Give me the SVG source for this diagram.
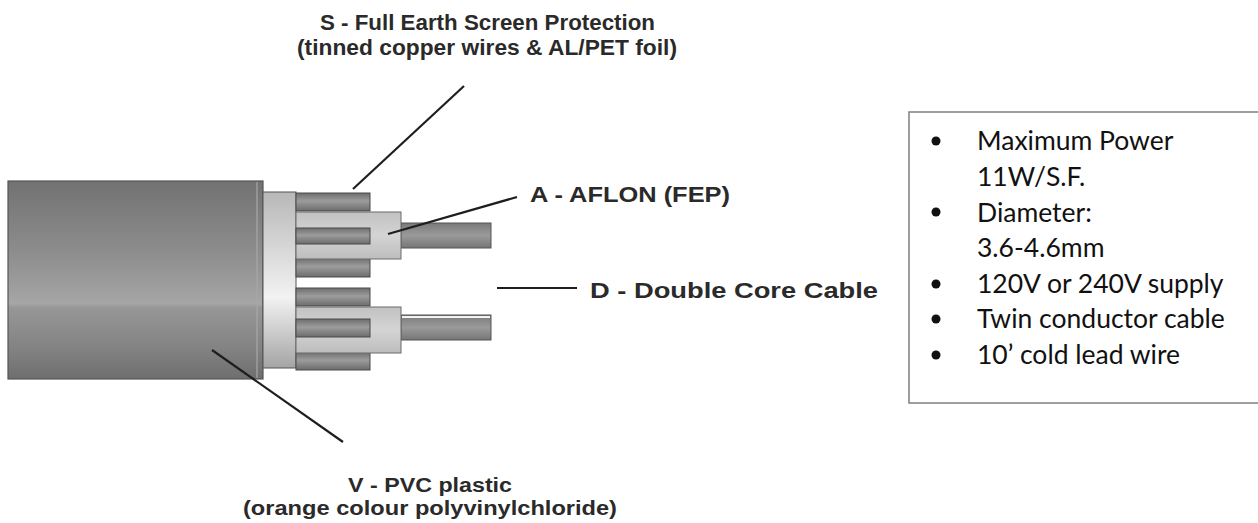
<svg xmlns="http://www.w3.org/2000/svg" width="1258" height="523" viewBox="0 0 1258 523">
<style>
.lbl{font-family:"Liberation Sans",Arial,sans-serif;font-weight:bold;font-size:22px;fill:#2a2a2a}
.lbs{font-size:20px}
.box{font-family:Lato,"Open Sans",sans-serif;font-size:26.5px;fill:#111}
.lead{stroke:#1e1e1e;stroke-width:2.2;fill:none}
.strand{fill:url(#gStrand);stroke:#4a4a4a;stroke-width:1}
.ins{fill:url(#gIns);stroke:#6a6a6a;stroke-width:1}
.cond{fill:url(#gCond);stroke:#555;stroke-width:1}
</style>
<defs>
<linearGradient id="gJacket" x1="0" y1="0" x2="0" y2="1">
<stop offset="0" stop-color="#727272"/>
<stop offset="0.35" stop-color="#8c8c8c"/>
<stop offset="0.62" stop-color="#a6a6a6"/>
<stop offset="0.64" stop-color="#979797"/>
<stop offset="0.85" stop-color="#828282"/>
<stop offset="1" stop-color="#6e6e6e"/>
</linearGradient>
<linearGradient id="gRing" x1="0" y1="0" x2="0" y2="1">
<stop offset="0" stop-color="#b8b8b8"/>
<stop offset="0.6" stop-color="#f2f2f2"/>
<stop offset="1" stop-color="#a4a4a4"/>
</linearGradient>
<linearGradient id="gStrand" x1="0" y1="0" x2="0" y2="1">
<stop offset="0" stop-color="#6e6e6e"/>
<stop offset="0.45" stop-color="#9c9c9c"/>
<stop offset="1" stop-color="#6c6c6c"/>
</linearGradient>
<linearGradient id="gIns" x1="0" y1="0" x2="0" y2="1">
<stop offset="0" stop-color="#c2c2c2"/>
<stop offset="0.5" stop-color="#d4d4d4"/>
<stop offset="1" stop-color="#bdbdbd"/>
</linearGradient>
<linearGradient id="gCond" x1="0" y1="0" x2="0" y2="1">
<stop offset="0" stop-color="#7a7a7a"/>
<stop offset="0.5" stop-color="#9a9a9a"/>
<stop offset="1" stop-color="#767676"/>
</linearGradient>
</defs>
<rect width="1258" height="523" fill="#fff"/>

<g id="cable">
<rect x="8" y="181" width="255" height="198" fill="url(#gJacket)" stroke="#555" stroke-width="1.2"/>
<line x1="257" y1="182" x2="257" y2="378" stroke="#a8a8a8" stroke-width="2" opacity="0.6"/>
<rect x="263" y="192" width="33" height="176" fill="url(#gRing)" stroke="#555" stroke-width="1"/>
<rect class="strand" x="296" y="193" width="74" height="18"/>
<rect class="strand" x="296" y="258" width="74" height="19"/>
<rect class="strand" x="296" y="288" width="74" height="18"/>
<rect class="strand" x="296" y="352" width="74" height="18"/>
<rect class="cond" x="401" y="223" width="90" height="25"/>
<rect class="cond" x="401" y="315" width="90" height="25"/>
<line x1="402" y1="317" x2="490" y2="317" stroke="#f4f4f4" stroke-width="2"/>
<rect class="ins" x="296" y="212" width="105" height="47"/>
<rect class="ins" x="296" y="307" width="105" height="46"/>
<rect class="strand" x="296" y="228" width="74" height="16"/>
<rect class="strand" x="296" y="319" width="74" height="18"/>
</g>

<g id="connectors">
<line class="lead" x1="464" y1="86" x2="353" y2="189"/>
<line class="lead" x1="517" y1="197" x2="388" y2="234"/>
<line class="lead" x1="497" y1="288" x2="577" y2="288"/>
<line class="lead" x1="212" y1="350" x2="343" y2="442"/>
</g>

<g id="label-s">
<text class="lbl" x="320" y="30" textLength="335" lengthAdjust="spacingAndGlyphs">S - Full Earth Screen Protection</text>
<text class="lbl" x="297" y="55" textLength="380" lengthAdjust="spacingAndGlyphs">(tinned copper wires &amp; AL/PET foil)</text>
</g>
<g id="label-a">
<text class="lbl" x="530" y="202" textLength="200" lengthAdjust="spacingAndGlyphs">A - AFLON (FEP)</text>
</g>
<g id="label-d">
<text class="lbl" x="590" y="298" textLength="288" lengthAdjust="spacingAndGlyphs">D - Double Core Cable</text>
</g>
<g id="label-v">
<text class="lbl lbs" x="348" y="492" textLength="164" lengthAdjust="spacingAndGlyphs">V - PVC plastic</text>
<text class="lbl lbs" x="243" y="515" textLength="374" lengthAdjust="spacingAndGlyphs">(orange colour polyvinylchloride)</text>
</g>

<g id="info-box">
<rect x="909" y="112" width="360" height="291" fill="#fff" stroke="#7f7f7f" stroke-width="1.5"/>
<circle cx="936" cy="141" r="4.5" fill="#111"/>
<circle cx="936" cy="212" r="4.5" fill="#111"/>
<circle cx="936" cy="284" r="4.5" fill="#111"/>
<circle cx="936" cy="319" r="4.5" fill="#111"/>
<circle cx="936" cy="355" r="4.5" fill="#111"/>
<text class="box" x="977" y="150">Maximum Power</text>
<text class="box" x="977" y="186">11W/S.F.</text>
<text class="box" x="977" y="222">Diameter:</text>
<text class="box" x="977" y="257">3.6-4.6mm</text>
<text class="box" x="977" y="293">120V or 240V supply</text>
<text class="box" x="977" y="328">Twin conductor cable</text>
<text class="box" x="977" y="364">10’ cold lead wire</text>
</g>
</svg>
